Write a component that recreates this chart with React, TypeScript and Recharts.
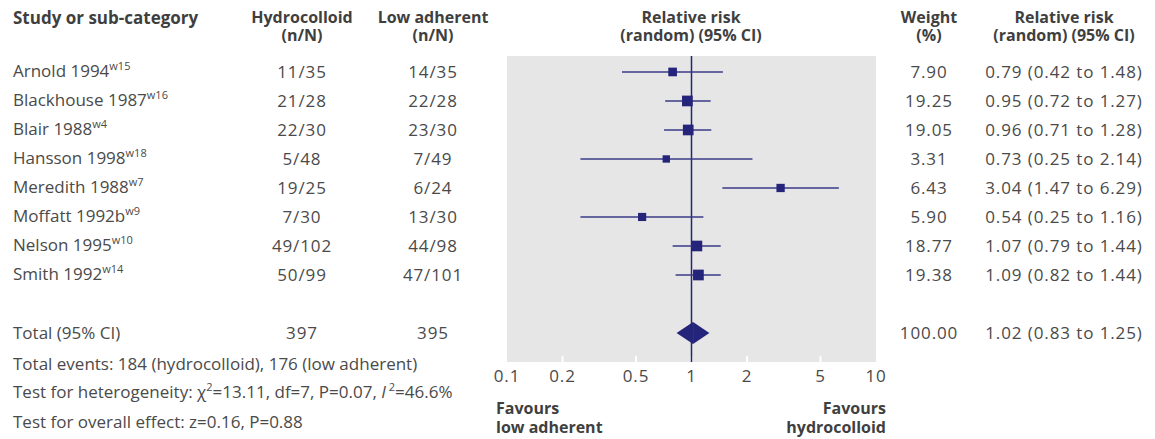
import React from "react";
import {
  ComposedChart,
  Scatter,
  XAxis,
  YAxis,
  CartesianGrid,
  ReferenceLine,
  ReferenceArea,
} from "recharts";

const studies = [
  "Arnold 1994",
  "Blackhouse 1987",
  "Blair 1988",
  "Hansson 1998",
  "Meredith 1988",
  "Moffatt 1992b",
  "Nelson 1995",
  "Smith 1992",
];
const refs = ["w15", "w16", "w4", "w18", "w7", "w9", "w10", "w14"];
const hydro = ["11/35", "21/28", "22/30", "5/48", "19/25", "7/30", "49/102", "50/99"];
const lowAdh = ["14/35", "22/28", "23/30", "7/49", "6/24", "13/30", "44/98", "47/101"];
const weights = [7.9, 19.25, 19.05, 3.31, 6.43, 5.9, 18.77, 19.38];
const rr = [0.79, 0.95, 0.96, 0.73, 3.04, 0.54, 1.07, 1.09];
const lo = [0.42, 0.72, 0.71, 0.25, 1.47, 0.25, 0.79, 0.82];
const hi = [1.48, 1.27, 1.28, 2.14, 6.29, 1.16, 1.44, 1.44];

const total = { hydro: "397", low: "395", weight: 100, rr: 1.02, lo: 0.83, hi: 1.25 };
const xTicks = [0.1, 0.2, 0.5, 1, 2, 5, 10];

const TOTAL_ROW = 10;
const FONT = "'Open Sans', 'Noto Sans', sans-serif";
const FS = 17;
const TXT = "#4a4a4a";
const HEAD = "#3f3f3f";
const NAVY = "#24247a";

// plot area, page coords
const PL = 507, PR = 876, PT = 56, PB = 362;
const Y0 = 0.45, Y1 = 11;
const rowY = (r: number) => PT + ((r - Y0) * (PB - PT)) / (Y1 - Y0);

const points = studies.map((s, i) => ({ rr: rr[i], row: i + 1, weight: weights[i] }));
const f2 = (v: number) => v.toFixed(2);

const T: React.FC<{
  x: number;
  y: number;
  align?: "left" | "center" | "right";
  bold?: boolean;
  num?: boolean;
  lh?: number;
  fs?: number;
  children: React.ReactNode;
}> = ({ x, y, align = "center", bold, num, lh = 20, fs = FS, children }) => {
  const tx = align === "center" ? "-50%" : align === "right" ? "-100%" : "0";
  return (
    <div
      style={{
        position: "absolute",
        left: x,
        top: y,
        transform: `translate(${tx}, -50%)`,
        whiteSpace: "nowrap",
        fontSize: fs,
        lineHeight: `${lh}px`,
        fontWeight: bold ? 700 : 400,
        letterSpacing: num ? 0.9 : 0,
        color: bold ? HEAD : TXT,
        textAlign: align,
      }}
    >
      {children}
    </div>
  );
};

const Sup: React.FC<{ children: React.ReactNode }> = ({ children }) => (
  <span style={{ fontSize: 11, position: "relative", top: -7, letterSpacing: 0 }}>{children}</span>
);

const Square = (props: any) => {
  const { cx, cy, payload } = props;
  const s = 5 + Math.sqrt(payload.weight) * 1.3;
  return <rect x={cx - s / 2} y={cy - s / 2} width={s} height={s} fill={NAVY} />;
};

const LeftHalf = (props: any) => {
  const { x, y, width, height } = props;
  return <polygon points={`${x},${y + height / 2} ${x + width},${y} ${x + width},${y + height}`} fill={NAVY} />;
};
const RightHalf = (props: any) => {
  const { x, y, width, height } = props;
  return <polygon points={`${x},${y} ${x + width},${y + height / 2} ${x},${y + height}`} fill={NAVY} />;
};

export default function App() {
  const colH = 302, colL = 433, colW = 929, colR = 1064;
  return (
    <div style={{ position: "relative", width: 1155, height: 439, fontFamily: FONT, background: "#fff" }}>
      <style>{`body{margin:0}`}</style>
      <div style={{ position: "absolute", left: 0, top: 0 }}>
        <ComposedChart
          width={1155}
          height={439}
          margin={{ top: PT, left: PL, right: 1155 - PR, bottom: 439 - PB - 30 }}
        >
          <CartesianGrid fill="#e6e6e6" horizontal={false} vertical={false} stroke="none" />
          <XAxis
            dataKey="rr"
            type="number"
            scale="log"
            domain={[0.1, 10]}
            ticks={xTicks}
            allowDataOverflow
            axisLine={false}
            tickLine={false}
            tickSize={0}
            tickMargin={8}
            height={30}
            interval={0}
            tickFormatter={(v: number) => String(v)}
            tick={{ fill: TXT, fontSize: FS, fontFamily: FONT, letterSpacing: 0.9 }}
          />
          <YAxis dataKey="row" type="number" domain={[Y0, Y1]} reversed hide allowDataOverflow />
          {xTicks.slice(1, -1).map((t) => (
            <ReferenceLine
              key={`tk-${t}`}
              segment={[
                { x: t, y: Y1 },
                { x: t, y: Y1 - 0.2 },
              ]}
              stroke="#ffffff"
              strokeWidth={2}
            />
          ))}
          <ReferenceLine x={1} stroke={NAVY} strokeWidth={1.5} />
          {studies.map((s, i) => (
            <ReferenceLine
              key={`ci-${s}`}
              segment={[
                { x: lo[i], y: i + 1 },
                { x: hi[i], y: i + 1 },
              ]}
              stroke="#3a3a88"
              strokeWidth={1.5}
            />
          ))}
          <Scatter data={points} shape={<Square />} isAnimationActive={false} />
          <ReferenceArea
            x1={total.lo}
            x2={total.rr}
            y1={TOTAL_ROW - 0.38}
            y2={TOTAL_ROW + 0.38}
            shape={<LeftHalf />}
          />
          <ReferenceArea
            x1={total.rr}
            x2={total.hi}
            y1={TOTAL_ROW - 0.38}
            y2={TOTAL_ROW + 0.38}
            shape={<RightHalf />}
          />
        </ComposedChart>
      </div>

      {/* headers */}
      <T x={13} y={18} align="left" bold>Study or sub-category</T>
      <T x={colH} y={26} bold lh={18} fs={16}>Hydrocolloid<br />(n/N)</T>
      <T x={colL} y={26} bold lh={18} fs={16}>Low adherent<br />(n/N)</T>
      <T x={691} y={26} bold lh={18} fs={16}>Relative risk<br />(random) (95% CI)</T>
      <T x={colW} y={26} bold lh={18} fs={16}>Weight<br />(%)</T>
      <T x={colR} y={26} bold lh={18} fs={16}>Relative risk<br />(random) (95% CI)</T>

      {studies.map((s, i) => {
        const y = rowY(i + 1);
        return (
          <React.Fragment key={s}>
            <T x={13} y={y} align="left">
              {s}
              <Sup>{refs[i]}</Sup>
            </T>
            <T x={colH} y={y} num>{hydro[i]}</T>
            <T x={colL} y={y} num>{lowAdh[i]}</T>
            <T x={colW} y={y} num>{f2(weights[i])}</T>
            <T x={colR} y={y} num>{`${f2(rr[i])} (${f2(lo[i])} to ${f2(hi[i])})`}</T>
          </React.Fragment>
        );
      })}

      <T x={13} y={rowY(TOTAL_ROW)} align="left">Total (95% CI)</T>
      <T x={colH} y={rowY(TOTAL_ROW)} num>{total.hydro}</T>
      <T x={colL} y={rowY(TOTAL_ROW)} num>{total.low}</T>
      <T x={colW} y={rowY(TOTAL_ROW)} num>{f2(total.weight)}</T>
      <T x={colR} y={rowY(TOTAL_ROW)} num>{`${f2(total.rr)} (${f2(total.lo)} to ${f2(total.hi)})`}</T>

      <T x={13} y={364} align="left">Total events: 184 (hydrocolloid), 176 (low adherent)</T>
      <T x={13} y={393} align="left">
        Test for heterogeneity: χ<Sup>2</Sup>=13.11, df=7, P=0.07, <i>I</i>
        <Sup> 2</Sup>=46.6%
      </T>
      <T x={13} y={422} align="left">Test for overall effect: z=0.16, P=0.88</T>

      <T x={496} y={418} align="left" bold lh={19} fs={16}>Favours<br />low adherent</T>
      <T x={886} y={418} align="right" bold lh={19} fs={16}>Favours<br />hydrocolloid</T>
    </div>
  );
}
